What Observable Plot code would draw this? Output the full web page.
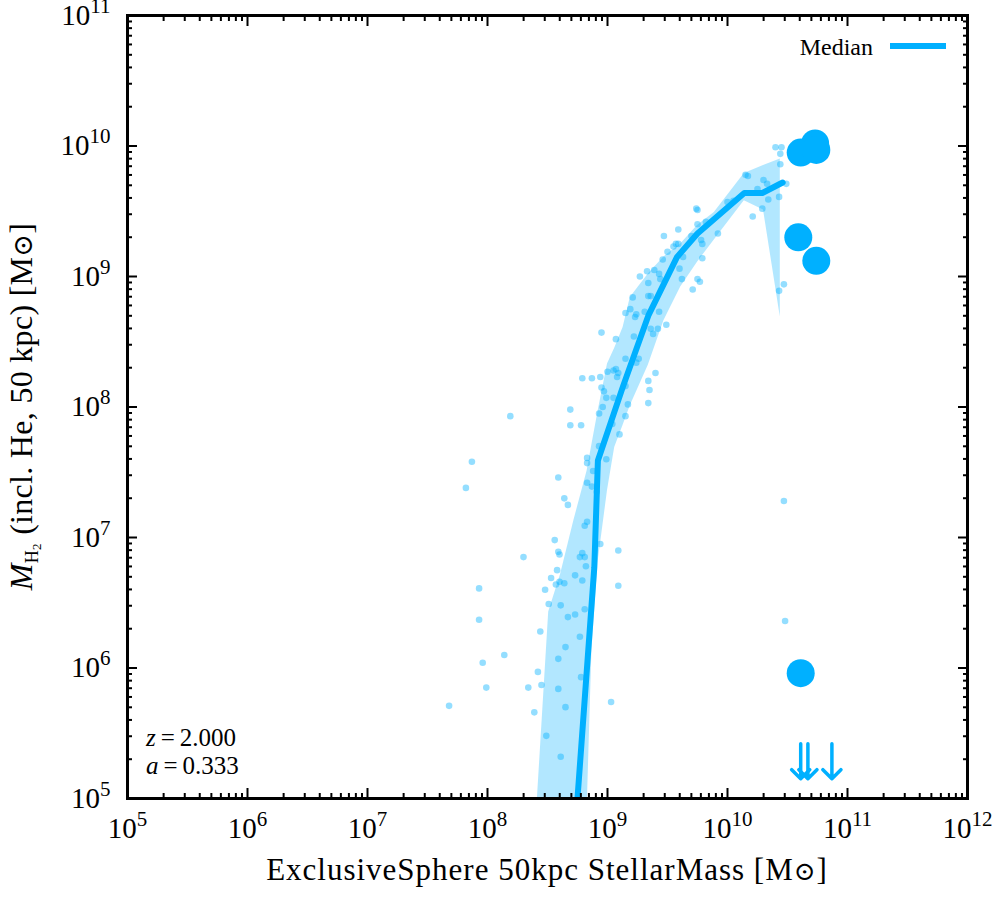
<!DOCTYPE html>
<html>
<head>
<meta charset="utf-8">
<script src="https://cdn.jsdelivr.net/npm/d3@7"></script>
<script src="https://cdn.jsdelivr.net/npm/@observablehq/plot@0.6"></script>
<style>
  body { margin: 0; background: #fff; }
</style>
</head>
<body>
<div id="chart"></div>
<script>
// values, stored as log10 (Msun)
const galLogMstar = [7.68,7.82,7.87,7.93,7.93,7.96,7.99,8.14,8.19,8.30,8.34,8.39,8.42,8.44,8.45,8.48,8.49,8.51,8.53,8.56,
  8.57,8.58,8.59,8.59,8.59,8.59,8.60,8.60,8.61,8.61,8.64,8.64,8.65,8.65,8.67,8.67,8.69,8.69,8.73,8.73,
  8.77,8.77,8.78,8.78,8.79,8.79,8.81,8.81,8.81,8.82,8.83,8.83,8.83,8.83,8.87,8.88,8.93,8.94,8.99,9.03,
  9.09,9.09,9.10,9.15,9.17,8.96,8.93,8.79,8.87,8.94,8.95,8.97,8.99,9.05,9.00,9.05,9.07,9.09,9.08,9.15,
  9.15,9.24,9.26,9.34,9.35,9.34,9.40,8.95,9.07,9.22,9.38,9.36,9.42,9.49,9.43,9.15,9.19,9.21,9.23,9.24,
  9.31,9.34,9.36,9.34,9.27,9.33,9.39,9.43,9.44,9.46,9.47,9.50,9.55,9.57,9.59,9.59,9.63,9.60,9.62,9.71,
  9.75,9.77,9.79,9.79,9.78,9.70,9.75,9.82,9.92,9.75,9.74,10.00,10.05,10.15,10.17,10.25,10.30,10.33,10.21,10.29,
  10.34,10.43,10.49,10.44,10.44,10.40,10.45,10.47,10.43,10.47,10.48,9.04,8.91];
const galLogMH2 = [5.71,7.38,7.58,6.61,6.37,6.04,5.85,6.10,7.93,6.85,5.85,5.66,5.97,6.28,5.87,6.60,5.48,6.49,6.69,6.98,
  6.64,6.75,5.84,7.46,6.89,6.07,6.87,6.66,6.48,5.32,6.65,7.30,6.16,5.70,7.25,6.39,7.98,7.86,6.71,6.41,
  6.85,6.24,7.86,5.93,6.88,6.67,6.85,7.09,6.45,6.78,7.61,7.57,7.42,7.12,7.39,7.51,7.70,6.95,7.60,5.74,
  6.90,6.63,7.79,7.93,8.02,8.00,7.95,8.22,8.22,8.23,8.15,8.12,8.07,8.07,8.27,8.28,8.29,8.26,8.23,8.16,
  8.37,8.34,8.37,8.20,8.13,8.03,8.26,8.57,8.52,8.54,8.56,8.60,8.60,8.63,8.73,8.72,8.75,8.84,8.69,8.71,
  8.73,8.85,8.85,8.95,9.00,9.04,9.05,9.02,8.98,9.13,9.31,9.19,9.23,9.25,9.25,9.36,9.15,9.06,8.98,8.90,
  8.98,8.96,9.14,9.25,9.28,9.31,9.40,9.42,9.33,9.51,9.52,9.57,9.58,9.78,9.77,9.67,9.74,9.71,9.46,9.52,
  9.59,9.61,9.71,9.86,9.94,9.99,9.99,8.94,8.89,7.28,6.36,7.87,7.35];

// median curve
const medLogMstar = [8.73,8.89,8.92,9.13,9.34,9.58,9.75,10.14,10.29,10.46];
const medLogMH2   = [4.75,6.77,7.59,8.16,8.70,9.15,9.33,9.64,9.64,9.72];

// scatter band (lower / upper edge)
const bandLogMstar = [8.41,8.51,8.61,8.72,8.83,8.87,8.92,9.00,9.06,9.13,9.19,9.34,9.47,9.61,9.75,9.89,10.14,10.30,10.44];
const bandLogLo    = [3.00,3.00,3.00,3.50,4.90,6.13,6.80,7.36,7.69,7.86,8.01,8.32,8.66,8.92,9.11,9.28,9.58,9.51,8.69];
const bandLogHi    = [4.91,6.43,6.72,7.13,7.51,7.71,7.96,8.33,8.45,8.61,8.84,9.02,9.15,9.25,9.39,9.49,9.79,9.85,9.90];

// observational points and upper limits
const obsLogMstar = [10.61,10.73,10.74,10.59,10.74,10.61];
const obsLogMH2   = [9.95,10.02,9.97,9.30,9.12,5.96];
const limLogMstar = [10.61,10.67,10.87];
const limLogMH2   = [5.42,5.42,5.42];

const xTickExp = [5,6,7,8,9,10,11,12];
const yTickExp = [5,6,7,8,9,10,11];

const blue = "#00b0ff";
const serif = "'Liberation Serif', 'DejaVu Serif', serif";
const gals = galLogMstar.map((m, i) => ({m: 10 ** m, h: 10 ** galLogMH2[i]}));
const median = medLogMstar.map((m, i) => ({m: 10 ** m, h: 10 ** medLogMH2[i]}));
const band = bandLogMstar.map((m, i) => ({m: 10 ** m, lo: 10 ** bandLogLo[i], hi: 10 ** bandLogHi[i]}));
const obs = obsLogMstar.map((m, i) => ({m: 10 ** m, h: 10 ** obsLogMH2[i]}));
const lims = limLogMstar.map((m, i) => ({m: 10 ** m, h: 10 ** limLogMH2[i]}));

const majX = xTickExp.map(e => 10 ** e);
const majY = yTickExp.map(e => 10 ** e);
const minors = exps => exps.slice(0, -1).flatMap(e => [2,3,4,5,6,7,8,9].map(k => k * 10 ** e));
const minX = minors(xTickExp), minY = minors(yTickExp);

const W = 996, H = 900, mL = 127, mR = 29, mT = 15, mB = 102;

const chart = Plot.plot({
  width: W, height: H,
  marginLeft: mL, marginRight: mR, marginTop: mT, marginBottom: mB,
  style: {fontFamily: serif, background: "white"},
  x: {type: "log", domain: [1e5, 1e12], axis: null},
  y: {type: "log", domain: [1e5, 1e11], axis: null},
  marks: [
    Plot.areaY(band, {x: "m", y1: "lo", y2: "hi", fill: blue, fillOpacity: 0.3, clip: true}),
    Plot.dot(gals, {x: "m", y: "h", r: 3.3, fill: blue, fillOpacity: 0.42}),
    Plot.line(median, {x: "m", y: "h", stroke: blue, strokeWidth: 6, clip: true}),
    Plot.dot(obs, {x: "m", y: "h", r: 14, fill: blue}),
    Plot.vector(lims, {x: "m", y: "h", length: 35, rotate: 180, anchor: "start", r: 4.5,
      stroke: blue, strokeWidth: 3.5}),
    // ticks inside the frame on all four sides
    Plot.axisX(majX, {anchor: "bottom", tickSize: -10, strokeWidth: 2, fill: "none", label: null}),
    Plot.axisX(majX, {anchor: "top", tickSize: -10, strokeWidth: 2, fill: "none", label: null}),
    Plot.axisX(minX, {anchor: "bottom", tickSize: -5, strokeWidth: 2, fill: "none", label: null}),
    Plot.axisX(minX, {anchor: "top", tickSize: -5, strokeWidth: 2, fill: "none", label: null}),
    Plot.axisY(majY, {anchor: "left", tickSize: -10, strokeWidth: 2, fill: "none", label: null}),
    Plot.axisY(majY, {anchor: "right", tickSize: -10, strokeWidth: 2, fill: "none", label: null}),
    Plot.axisY(minY, {anchor: "left", tickSize: -5, strokeWidth: 2, fill: "none", label: null}),
    Plot.axisY(minY, {anchor: "right", tickSize: -5, strokeWidth: 2, fill: "none", label: null}),
    Plot.axisX(majX, {anchor: "bottom", tickSize: 0, tickPadding: 19, fontSize: 29, label: null,
      tickFormat: d => String(Math.round(Math.log10(d)))}),
    Plot.axisY(majY, {anchor: "left", tickSize: 0, tickPadding: 17, fontSize: 29, label: null,
      tickFormat: d => String(Math.round(Math.log10(d)))}),
    Plot.frame({stroke: "black", strokeWidth: 3})
  ]
});

const svg = d3.select(chart).attr("font-family", serif);
// 10^n tick labels
svg.selectAll('g[aria-label="x-axis tick label"] text, g[aria-label="y-axis tick label"] text').each(function() {
  const t = d3.select(this).attr("font-family", serif).attr("font-size", 29).attr("fill", "black");
  const e = t.text();
  t.text(null);
  t.append("tspan").text("10");
  t.append("tspan").attr("dy", -12).attr("font-size", 21).text(e);
});

// axis titles
const xt = svg.append("text")
  .attr("x", mL + (W - mL - mR) / 2).attr("y", 880)
  .attr("text-anchor", "middle").attr("font-size", 31).attr("letter-spacing", 1).attr("fill", "black");
xt.append("tspan").text("ExclusiveSphere 50kpc StellarMass [M");
xt.append("tspan").attr("font-size", 26).text("\u2299");
xt.append("tspan").text("]");

const yc = mT + (H - mT - mB) / 2;
const yt = svg.append("text")
  .attr("transform", `translate(32,${yc}) rotate(-90)`)
  .attr("text-anchor", "middle").attr("font-size", 32).attr("letter-spacing", 0.3).attr("fill", "black");
yt.append("tspan").attr("font-style", "italic").text("M");
yt.append("tspan").attr("font-size", 18).attr("dy", 6).text("H");
yt.append("tspan").attr("font-size", 13).attr("dy", 3).text("2");
yt.append("tspan").attr("dy", -9).text(" (incl. He, 50 kpc) [M");
yt.append("tspan").attr("font-size", 27).text("\u2299");
yt.append("tspan").text("]");

// redshift note
const note = svg.append("g").attr("font-size", 25).attr("fill", "black").attr("text-anchor", "start");
const n1 = note.append("text").attr("x", 146).attr("y", 746);
n1.append("tspan").attr("font-style", "italic").text("z");
n1.append("tspan").text("\u2009=\u20092.000");
const n2 = note.append("text").attr("x", 146).attr("y", 774);
n2.append("tspan").attr("font-style", "italic").text("a");
n2.append("tspan").text("\u2009=\u20090.333");

// legend
const lg = svg.append("g");
lg.append("text").attr("x", 873).attr("y", 55).attr("text-anchor", "end")
  .attr("font-size", 24).attr("fill", "black").text("Median");
lg.append("line").attr("x1", 890).attr("x2", 946).attr("y1", 46).attr("y2", 46)
  .attr("stroke", blue).attr("stroke-width", 6);

d3.select("#chart").append(() => chart);
</script>
</body>
</html>
